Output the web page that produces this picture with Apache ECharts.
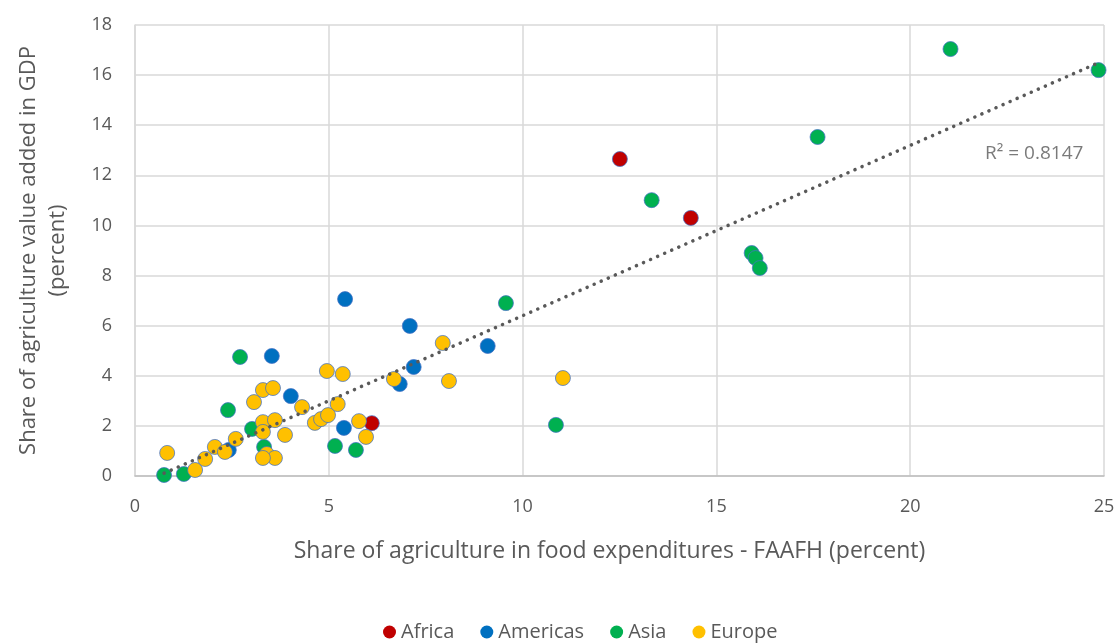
<!DOCTYPE html>
<html>
<head>
<meta charset="utf-8">
<script src="https://cdn.jsdelivr.net/npm/echarts@6/dist/echarts.min.js"></script>
<style>
  html, body { margin: 0; padding: 0; background: #fff; }
  #chart { width: 1120px; height: 644px; }
</style>
</head>
<body>
<div id="chart"></div>
<script>
// [FAAFH share of agriculture in food expenditures, agriculture value added share of GDP]
const africa = [
  [12.51, 12.65], [14.34, 10.30], [6.11, 2.11]
];
const americas = [
  [5.42, 7.06], [7.09, 5.99], [3.53, 4.79], [7.19, 4.35], [9.10, 5.19],
  [6.83, 3.67], [4.02, 3.19], [5.39, 1.92], [2.42, 1.04]
];
const asia = [
  [21.04, 17.04], [24.86, 16.20], [17.61, 13.53], [13.33, 11.01],
  [15.91, 8.90], [16.01, 8.70], [16.12, 8.30], [9.57, 6.90], [10.86, 2.04],
  [2.71, 4.75], [2.40, 2.63], [3.02, 1.88], [3.33, 1.16], [5.16, 1.20],
  [5.70, 1.04], [0.75, 0.04], [1.26, 0.08]
];
const europe = [
  [0.83, 0.92], [1.55, 0.24], [1.81, 0.68], [2.06, 1.16], [2.32, 0.96],
  [2.60, 1.48], [3.07, 2.95], [3.30, 3.43], [3.56, 3.51], [3.30, 2.15],
  [3.61, 2.23], [3.30, 1.76], [3.87, 1.64], [3.40, 0.88], [3.61, 0.72],
  [3.30, 0.72], [4.31, 2.75], [4.64, 2.12], [4.80, 2.27], [4.98, 2.43],
  [4.95, 4.19], [5.36, 4.07], [5.23, 2.87], [5.78, 2.19], [5.96, 1.56],
  [6.68, 3.87], [7.94, 5.31], [8.10, 3.79], [11.04, 3.91]
];
const regionNames = ['Africa', 'Americas', 'Asia', 'Europe'];
const regionColors = ['#C00000', '#0070C0', '#00B050', '#FFC000'];
const rSquaredText = 'R\u00B2 = 0.8147';

// Linear least-squares trend over all regions, spanning the observed x range
const allPoints = africa.concat(americas, asia, europe);
const n = allPoints.length;
let sx = 0, sy = 0, sxx = 0, sxy = 0;
allPoints.forEach(([x, y]) => { sx += x; sy += y; sxx += x * x; sxy += x * y; });
const slope = (n * sxy - sx * sy) / (n * sxx - sx * sx);
const intercept = (sy - slope * sx) / n;
const xs = allPoints.map(p => p[0]);
const xMin = Math.min(...xs), xMax = Math.max(...xs);
const trend = [[xMin, intercept + slope * xMin], [xMax, intercept + slope * xMax]];

const font = '"Open Sans", "Noto Sans", sans-serif';
const textColor = '#595959';

const chart = echarts.init(document.getElementById('chart'), null, { renderer: 'canvas' });

const scatterSeries = [africa, americas, asia, europe].map((data, i) => ({
  name: regionNames[i],
  type: 'scatter',
  data: data,
  symbol: 'circle',
  symbolSize: 15,
  itemStyle: { color: regionColors[i], borderColor: '#4472C4', borderWidth: 0.75, opacity: 1 },
  emphasis: { disabled: true },
  z: 2
}));

chart.setOption({
  animation: false,
  textStyle: { fontFamily: font },
  grid: { left: 135, right: 16, top: 25, bottom: 168, containLabel: false, outerBoundsMode: 'none' },
  legend: {
    data: regionNames.map(name => ({ name: name, icon: 'circle', itemStyle: { borderWidth: 0 } })),
    bottom: -3,
    left: 378,
    itemWidth: 13,
    itemHeight: 13,
    itemGap: 26,
    textStyle: { color: textColor, fontSize: 20, fontFamily: font }
  },
  xAxis: {
    type: 'value',
    min: 0,
    max: 25,
    interval: 5,
    name: 'Share of agriculture in food expenditures - FAAFH (percent)',
    nameLocation: 'middle',
    nameGap: 64,
    nameTextStyle: { color: textColor, fontSize: 23, fontFamily: font, padding: [0, 20, 0, 0] },
    axisLine: { show: true, lineStyle: { color: '#BFBFBF', width: 1.5 } },
    axisTick: { show: false },
    axisLabel: { color: textColor, fontSize: 18, margin: 22, fontFamily: font },
    splitLine: { show: true, lineStyle: { color: '#D9D9D9', width: 1.5 } }
  },
  yAxis: {
    type: 'value',
    min: 0,
    max: 18,
    interval: 2,
    name: 'Share of agriculture value added in GDP\n(percent)',
    nameLocation: 'middle',
    nameRotate: 90,
    nameGap: 63,
    nameTextStyle: { color: textColor, fontSize: 22, lineHeight: 29, fontFamily: font, align: 'center' },
    axisLine: { show: true, lineStyle: { color: '#D9D9D9', width: 1.5 } },
    axisTick: { show: false },
    axisLabel: { color: textColor, fontSize: 18, margin: 23, fontFamily: font },
    splitLine: { show: true, lineStyle: { color: '#D9D9D9', width: 1.5 } }
  },
  series: scatterSeries.concat([
    {
      name: 'Linear trend',
      type: 'line',
      data: trend,
      showSymbol: false,
      symbol: 'none',
      lineStyle: { color: '#595959', width: 3.5, type: [0.1, 7.6], cap: 'round' },
      emphasis: { disabled: true },
      silent: true,
      z: 3
    },
    {
      name: 'R squared',
      type: 'scatter',
      data: [[23.2, 12.85]],
      symbolSize: 0,
      silent: true,
      label: {
        show: true,
        position: 'inside',
        formatter: rSquaredText,
        color: textColor,
        fontSize: 19,
        fontFamily: font
      },
      z: 4
    }
  ])
});
</script>
</body>
</html>
